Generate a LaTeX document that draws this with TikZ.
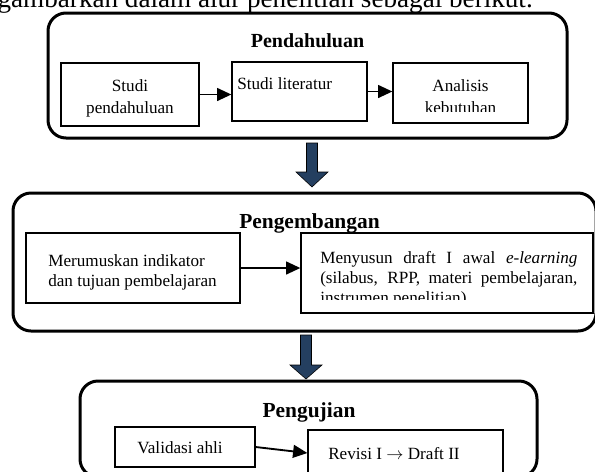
\documentclass[tikz,border=0pt]{standalone}
\usepackage{fontspec}
\setmainfont{Liberation Serif}
\usetikzlibrary{arrows.meta,fit}
\definecolor{stagenavy}{HTML}{243F60}

\begin{document}
\begin{tikzpicture}[x=0.7pt, y=-0.7pt,
    stagebox/.style={draw, line width=2.1pt, rounded corners=12.6pt, inner sep=0pt},
    itembox/.style={draw, line width=0.9pt, inner sep=0pt},
    stagetitle/.style={font=\bfseries\fontsize{15}{17}\selectfont, inner sep=0pt},
    itemtext/.style={font=\fontsize{12}{14}\selectfont, inner sep=0pt},
    flow/.style={line width=1.3pt, -{Triangle[length=10pt, width=9pt]}},
    blockarrow/.style={fill=stagenavy, draw=black, line width=0.4pt}]
  \useasboundingbox (0,0) rectangle (595,471);
  \fill[white] (0,0) rectangle (595,471);

  % lead-in sentence, cut at the top edge
  \node[font=\fontsize{19}{22}\selectfont, inner sep=0pt, anchor=base east] (lead) at (533,7) {gambarkan dalam alur penelitian sebagai berikut.};

  % Pendahuluan
  \node[stagebox, fit={(48,13) (567,138)}] (pend) {};
  \node[stagetitle, font=\bfseries\fontsize{14}{16}\selectfont, anchor=base] (pendT) at (307.5,47) {Pendahuluan};
  \node[itembox, fit={(61,63) (199,126)}] (studi) {};
  \node[itemtext, align=center, anchor=north] (studiT) at (130,79) {Studi\\[1.6pt]pendahuluan};
  \node[itembox, fit={(232,62) (367,121)}] (lit) {};
  \node[itemtext, anchor=base west] (litT) at (237,89) {Studi literatur};
  \node[itembox, fit={(393,63) (528,123)}] (ana) {};
  \begin{scope}
    \clip (393,63) rectangle (528,111);
    \node[itemtext, align=center, anchor=north] (anaT) at (460.5,79.3) {Analisis\\[1.6pt]kebutuhan};
  \end{scope}
  \draw[flow] (studi.east) -- (lit.west |- studi.east);
  \draw[flow] (lit.east) -- (ana.west |- lit.east);

  \draw[blockarrow] (306.5,143) -- (317.5,143) -- (317.5,172) -- (328,172) -- (312,187) -- (296,172) -- (306.5,172) -- cycle;

  % Pengembangan
  \node[stagebox, fit={(13,193) (596,331)}] (peng) {};
  \node[stagetitle, anchor=base] (pengT) at (309.5,228) {Pengembangan};
  \node[itembox, fit={(26,233) (240,303)}] (meru) {};
  \node[itemtext, align=left, anchor=north west] (meruT) at (48,254) {Merumuskan indikator\\dan tujuan pembelajaran};
  \node[itembox, fit={(301,233) (593,313)}] (meny) {};
  \begin{scope}
    \clip (301,233) rectangle (593,299);
    \node[itemtext, text width=180pt, align=justify, anchor=north west] (menyT) at (320,251) {\tolerance=10000 Menyusun draft I awal \textit{e-learning}\linebreak (silabus, RPP, materi pembelajaran,\linebreak instrumen penelitian)};
  \end{scope}
  \draw[flow] (meru.east) -- (meny.west |- meru.east);

  \draw[blockarrow] (300.5,335) -- (311.5,335) -- (311.5,365) -- (322,365) -- (306,379) -- (290,365) -- (300.5,365) -- cycle;

  % Pengujian
  \node[stagebox, fit={(80,381) (537,477)}] (uji) {};
  \node[stagetitle, anchor=base] (ujiT) at (309,417) {Pengujian};
  \node[itembox, fit={(115,427) (255,467)}] (valid) {};
  \node[itemtext, anchor=base] (validT) at (180,453) {Validasi ahli};
  \node[itembox, fit={(308,430) (503,476)}] (revisi) {};
  \node[itemtext, anchor=base west] (revisiT) at (328,459) {Revisi I $\rightarrow$ Draft II};
  \draw[flow] (valid.east) -- (revisi.west);
\end{tikzpicture}
\end{document}
